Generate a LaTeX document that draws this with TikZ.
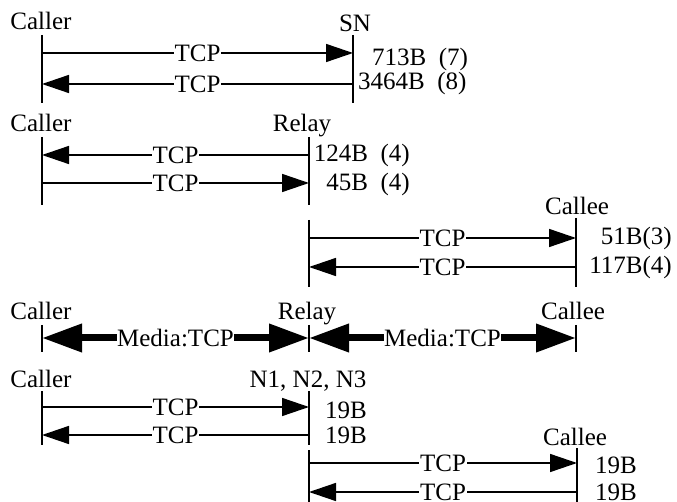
\documentclass[tikz,border=0pt]{standalone}
\usepackage{fontspec}
\setmainfont{Liberation Serif}
\usetikzlibrary{arrows.meta}
\newcommand{\bigtxt}{\fontsize{25pt}{30pt}\selectfont}
\begin{document}
\begin{tikzpicture}[x=1pt,y=-1pt,
  txt/.style={inner sep=0pt,font=\bigtxt},
  lbl/.style={txt,anchor=base},
  lft/.style={txt,anchor=base west},
  rgt/.style={txt,anchor=base east},
  life/.style={line width=2pt},
  tick/.style={line width=1.3pt},
  msg/.style={line width=1.5pt,-{Triangle[length=27pt,width=18pt]}},
  media/.style={line width=7pt,{Triangle[length=40pt,width=27pt]}-{Triangle[length=40pt,width=27pt]}},
  onl/.style={txt,fill=white,inner xsep=1pt,inner ysep=2pt}
]
\useasboundingbox (0,0) rectangle (677,502);
% ---------- Section 1: Caller -- SN
\node[lbl] (caller1) at (41,30) {Caller};
\node[lbl] (sn) at (355,32) {SN};
\coordinate (c1t) at (42,35); \coordinate (c1b) at (42,103);
\coordinate (s1t) at (353,35); \coordinate (s1b) at (353,103);
\draw[life] (c1t) -- (c1b);
\draw[life] (s1t) -- (s1b);
\coordinate (c1a) at (42,53); \coordinate (s1a) at (353,53);
\coordinate (c1c) at (42,84); \coordinate (s1c) at (353,84);
\draw[msg] (c1a) -- node[onl] (t1a) {TCP} (s1a);
\draw[msg] (s1c) -- node[onl] (t1c) {TCP} (c1c);
\node[lft] (sz1a) at (372,66) {713B\ \ (7)};
\node[lft] (sz1c) at (358,90) {3464B\ \ (8)};
% ---------- Section 2: Caller -- Relay
\node[lbl] (caller2) at (41,132) {Caller};
\node[lbl] (relay2) at (302,132) {Relay};
\coordinate (c2t) at (42,137); \coordinate (c2b) at (42,205);
\coordinate (r2t) at (309,137); \coordinate (r2b) at (309,205);
\draw[life] (c2t) -- (c2b);
\draw[life] (r2t) -- (r2b);
\coordinate (c2a) at (42,155); \coordinate (r2a) at (309,155);
\coordinate (c2c) at (42,183); \coordinate (r2c) at (309,183);
\draw[msg] (r2a) -- node[onl] (t2a) {TCP} (c2a);
\draw[msg] (c2c) -- node[onl] (t2c) {TCP} (r2c);
\node[rgt] (sz2a) at (410,162) {124B\ \ (4)};
\node[rgt] (sz2c) at (410,191) {45B\ \ (4)};
% ---------- Section 3: Relay -- Callee
\node[lbl] (callee3) at (577,215) {Callee};
\coordinate (r3t) at (309,220); \coordinate (r3b) at (309,287);
\coordinate (e3t) at (576,218); \coordinate (e3b) at (576,287);
\draw[life] (r3t) -- (r3b);
\draw[life] (e3t) -- (e3b);
\coordinate (r3a) at (309,238); \coordinate (e3a) at (576,238);
\coordinate (r3c) at (309,267); \coordinate (e3c) at (576,267);
\draw[msg] (r3a) -- node[onl] (t3a) {TCP} (e3a);
\draw[msg] (e3c) -- node[onl] (t3c) {TCP} (r3c);
\node[rgt] (sz3a) at (672,245) {51B(3)};
\node[rgt] (sz3c) at (672,274) {117B(4)};
% ---------- Section 4: media
\node[lbl] (caller4) at (41,320) {Caller};
\node[lbl] (relay4) at (307,320) {Relay};
\node[lbl] (callee4) at (573,320) {Callee};
\coordinate (c4t) at (42,325); \coordinate (c4b) at (42,352);
\coordinate (r4t) at (309,325); \coordinate (r4b) at (309,352);
\coordinate (e4t) at (576,325); \coordinate (e4b) at (576,352);
\draw[tick] (c4t) -- (c4b);
\draw[tick] (r4t) -- (r4b);
\draw[tick] (e4t) -- (e4b);
\coordinate (c4m) at (42,338); \coordinate (r4m) at (309,338); \coordinate (e4m) at (576,338);
\draw[media] (c4m) -- node[onl,inner xsep=0.5pt] (m4a) {Media:TCP} (r4m);
\draw[media] (r4m) -- node[onl,inner xsep=0.5pt] (m4b) {Media:TCP} (e4m);
% ---------- Section 5: Caller -- N1,N2,N3 -- Callee
\node[lbl] (caller5) at (41,387) {Caller};
\node[lbl] (nodes5) at (308,387) {N1, N2, N3};
\coordinate (c5t) at (42,391); \coordinate (c5b) at (42,445);
\coordinate (r5t) at (309,391); \coordinate (r5b) at (309,445);
\draw[life] (c5t) -- (c5b);
\draw[life] (r5t) -- (r5b);
\coordinate (c5a) at (42,407); \coordinate (r5a) at (309,407);
\coordinate (c5c) at (42,435); \coordinate (r5c) at (309,435);
\draw[msg] (c5a) -- node[onl] (t5a) {TCP} (r5a);
\draw[msg] (r5c) -- node[onl] (t5c) {TCP} (c5c);
\node[lft] (sz5a) at (325,418) {19B};
\node[lft] (sz5c) at (325,443) {19B};
\node[lbl] (callee5) at (575,445) {Callee};
\coordinate (r6t) at (309,450); \coordinate (r6b) at (309,502);
\coordinate (e6t) at (577,448); \coordinate (e6b) at (577,502);
\draw[life] (r6t) -- (r6b);
\draw[life] (e6t) -- (e6b);
\coordinate (r6a) at (309,463); \coordinate (e6a) at (577,463);
\coordinate (r6c) at (309,492); \coordinate (e6c) at (577,492);
\draw[msg] (r6a) -- node[onl] (t6a) {TCP} (e6a);
\draw[msg] (e6c) -- node[onl,inner ysep=1pt] (t6c) {TCP} (r6c);
\node[lft] (sz6a) at (595,473) {19B};
\node[lft] (sz6c) at (595,500) {19B};
\end{tikzpicture}
\end{document}
